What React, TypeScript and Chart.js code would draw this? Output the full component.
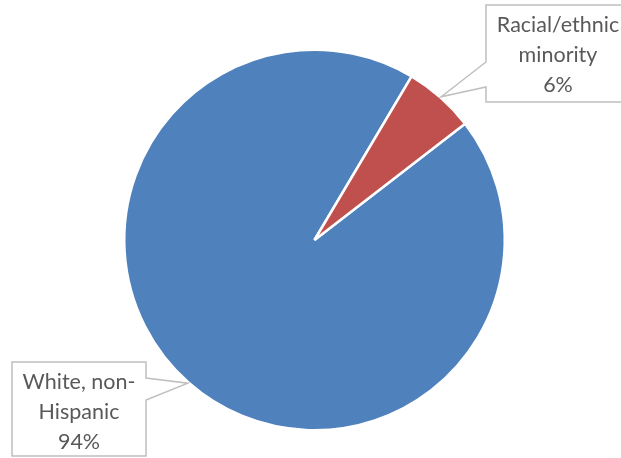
import React, { useEffect, useRef } from "react";
import { Chart, registerables } from "chart.js";

Chart.register(...registerables);

const categories = ["White, non-Hispanic", "Racial/ethnic minority"];
const values = [94, 6];
const labelLines = [
  ["White, non-", "Hispanic", "94%"],
  ["Racial/ethnic", "minority", "6%"],
];
const colors = ["#4F81BD", "#C0504D"];

const FONT = '21.5px Lato, "Open Sans", sans-serif';

// callout layout: box rect + wedge base on a side
const callouts = [
  { x: 12, y: 362, w: 134, h: 94, side: "right", wy1: 378, wy2: 400 },
  { x: 486, y: 5, w: 144, h: 97, side: "left", wy1: 62, wy2: 87 },
];

const calloutPlugin = {
  id: "callouts",
  afterDatasetsDraw(chart: any) {
    const ctx = chart.ctx;
    const meta = chart.getDatasetMeta(0);
    meta.data.forEach((arc: any, i: number) => {
      const c = callouts[i];
      const mid = (arc.startAngle + arc.endAngle) / 2;
      const tr = arc.outerRadius + 1;
      const tx = arc.x + Math.cos(mid) * tr;
      const ty = arc.y + Math.sin(mid) * tr;
      ctx.save();
      ctx.beginPath();
      if (c.side === "left") {
        ctx.moveTo(c.x, c.y);
        ctx.lineTo(c.x + c.w, c.y);
        ctx.lineTo(c.x + c.w, c.y + c.h);
        ctx.lineTo(c.x, c.y + c.h);
        ctx.lineTo(c.x, c.wy2);
        ctx.lineTo(tx, ty);
        ctx.lineTo(c.x, c.wy1);
        ctx.closePath();
      } else {
        ctx.moveTo(c.x, c.y);
        ctx.lineTo(c.x + c.w, c.y);
        ctx.lineTo(c.x + c.w, c.wy1);
        ctx.lineTo(tx, ty);
        ctx.lineTo(c.x + c.w, c.wy2);
        ctx.lineTo(c.x + c.w, c.y + c.h);
        ctx.lineTo(c.x, c.y + c.h);
        ctx.closePath();
      }
      ctx.fillStyle = "#ffffff";
      ctx.fill();
      ctx.strokeStyle = "#BFBFBF";
      ctx.lineWidth = 1.5;
      ctx.stroke();
      ctx.fillStyle = "#595959";
      ctx.font = FONT;
      ctx.textAlign = "center";
      ctx.textBaseline = "middle";
      const cx = c.x + 67 + (c.side === "left" ? 5 : 0);
      labelLines[i].forEach((line, k) => {
        ctx.fillText(line, cx, c.y + 20 + k * 30);
      });
      ctx.restore();
    });
  },
};

export default function App() {
  const ref = useRef<HTMLCanvasElement>(null);
  useEffect(() => {
    if (!ref.current) return;
    const chart = new Chart(ref.current, {
      type: "pie",
      data: {
        labels: categories,
        datasets: [
          {
            data: values,
            backgroundColor: colors,
            borderColor: "#ffffff",
            borderWidth: 2.5,
          },
        ],
      },
      options: {
        responsive: false,
        animation: false,
        rotation: 52.3,
        layout: { padding: { left: 123, right: 115, top: 48, bottom: 26 } },
        plugins: {
          legend: { display: false },
          tooltip: { enabled: false },
        },
      },
      plugins: [calloutPlugin],
    });
    return () => chart.destroy();
  }, []);
  return (
    <div style={{ position: "fixed", left: 0, top: 0, width: 621, height: 458, background: "#fff" }}>
      <canvas ref={ref} width={621} height={458} />
    </div>
  );
}
